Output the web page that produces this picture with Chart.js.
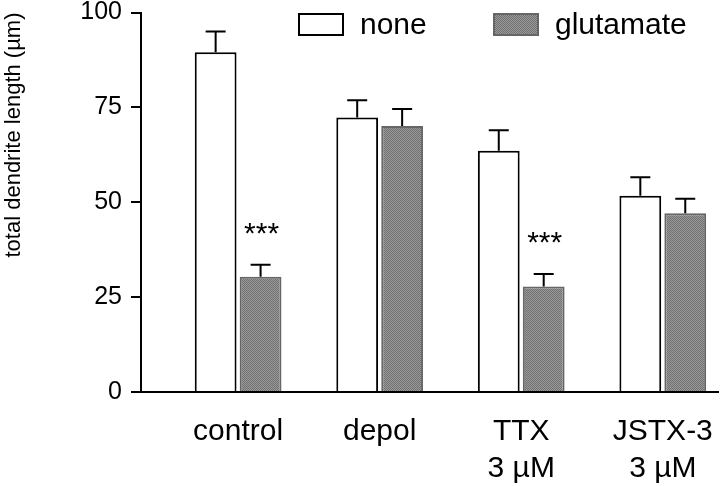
<!DOCTYPE html>
<html>
<head>
<meta charset="utf-8">
<script src="https://cdn.jsdelivr.net/npm/chart.js@4.4.1/dist/chart.umd.min.js"></script>
<style>
  html, body { margin: 0; padding: 0; background: #ffffff; }
  #wrap { width: 720px; height: 486px; }
</style>
</head>
<body>
<div id="wrap"><canvas id="c" width="720" height="486"></canvas></div>
<script>
// ---- data ----
const categories = ['control', 'depol', 'TTX', 'JSTX-3'];
const doses = ['', '', '3 µM', '3 µM'];
const seriesNames = ['none', 'glutamate'];
const noneMean = [89.5, 72.3, 63.6, 51.7];
const noneErr = [5.5, 4.6, 5.4, 4.9];
const gluMean = [30.4, 70.1, 27.8, 47.1];
const gluErr = [3.1, 4.5, 3.3, 3.8];
const gluSig = ['***', '', '***', ''];
const yTicks = [0, 25, 50, 75, 100];
const yTitle = 'total dendrite length (µm)';

Chart.defaults.font.family = "'Liberation Sans', Arial, Helvetica, sans-serif";
Chart.defaults.color = '#000';

// grey stippled fill like the print
function makePattern() {
  const p = document.createElement('canvas');
  p.width = 2; p.height = 2;
  const g = p.getContext('2d');
  g.fillStyle = '#989898'; g.fillRect(0, 0, 2, 2);
  g.fillStyle = '#727272'; g.fillRect(0, 0, 1, 1); g.fillRect(1, 1, 1, 1);
  return g.createPattern(p, 'repeat');
}
const gluFill = makePattern();

const errorBars = {
  id: 'errorBars',
  afterDatasetsDraw(chart) {
    const ctx = chart.ctx;
    const ys = chart.scales.y;
    const errs = [noneErr, gluErr];
    const means = [noneMean, gluMean];
    ctx.save();
    ctx.strokeStyle = '#000';
    ctx.lineWidth = 2;
    chart.data.datasets.forEach((ds, d) => {
      const meta = chart.getDatasetMeta(d);
      meta.data.forEach((bar, i) => {
        const top = ys.getPixelForValue(means[d][i]);
        const hi = ys.getPixelForValue(means[d][i] + errs[d][i]);
        ctx.beginPath();
        ctx.moveTo(bar.x, top);
        ctx.lineTo(bar.x, hi);
        ctx.moveTo(bar.x - 10, hi);
        ctx.lineTo(bar.x + 10, hi);
        ctx.stroke();
        if (d === 1 && gluSig[i]) {
          ctx.fillStyle = '#000';
          ctx.font = "30px 'Liberation Sans', Arial, sans-serif";
          ctx.textAlign = 'center';
          ctx.textBaseline = 'middle';
          ctx.fillText(gluSig[i], bar.x + 1, hi - 30);
        }
      });
    });
    ctx.restore();
  }
};

const boxLegend = {
  id: 'boxLegend',
  afterDraw(chart) {
    const ctx = chart.ctx;
    const xs = [299, 494];
    ctx.save();
    ctx.font = "30px 'Liberation Sans', Arial, sans-serif";
    ctx.textBaseline = 'alphabetic';
    ctx.textAlign = 'left';
    chart.data.datasets.forEach((ds, d) => {
      const x = xs[d];
      ctx.fillStyle = ds.backgroundColor;
      ctx.fillRect(x, 14, 44, 21);
      ctx.strokeStyle = ds.borderColor;
      ctx.lineWidth = 2;
      ctx.strokeRect(x, 14, 44, 21);
      ctx.fillStyle = '#000';
      ctx.fillText(ds.label, x + 61, 34);
    });
    ctx.restore();
  }
};

new Chart(document.getElementById('c'), {
  type: 'bar',
  data: {
    datasets: [
      {
        label: seriesNames[0],
        data: noneMean.map((v, i) => ({ x: i + 1, y: v })),
        backgroundColor: '#ffffff',
        borderColor: '#000000',
        borderWidth: 2,
        borderSkipped: 'start'
      },
      {
        label: seriesNames[1],
        data: gluMean.map((v, i) => ({ x: i + 1, y: v })),
        backgroundColor: gluFill,
        borderColor: '#666666',
        borderWidth: 2,
        borderSkipped: 'start'
      }
    ]
  },
  options: {
    responsive: false,
    devicePixelRatio: 1,
    animation: false,
    categoryPercentage: 0.635,
    barPercentage: 0.93,
    layout: { padding: { top: 12.5, right: 2, bottom: 0, left: 0 } },
    plugins: {
      legend: { display: false },
      tooltip: { enabled: false },
      title: { display: false }
    },
    scales: {
      x: {
        type: 'linear',
        min: 0.314,
        max: 4.39,
        offset: false,
        afterBuildTicks: (axis) => { axis.ticks = categories.map((c, i) => ({ value: i + 1 })); },
        afterFit: (axis) => { axis.height = 94; axis.paddingLeft = 0; axis.paddingRight = 0; },
        grid: { display: false, drawTicks: false },
        border: { display: true, color: '#000', width: 2 },
        ticks: {
          autoSkip: false,
          maxRotation: 0,
          padding: 21,
          color: '#000',
          font: { size: 30, lineHeight: 1.233 },
          callback: (v) => {
            const i = Math.round(v) - 1;
            return doses[i] ? [categories[i], doses[i]] : categories[i];
          }
        }
      },
      y: {
        min: 0,
        max: 100,
        afterBuildTicks: (axis) => { axis.ticks = yTicks.map(v => ({ value: v })); },
        afterFit: (axis) => { axis.width = 141; axis.paddingTop = 0; axis.paddingBottom = 0; },
        grid: {
          display: true,
          drawOnChartArea: false,
          drawTicks: true,
          tickLength: 10,
          color: '#000',
          lineWidth: 2
        },
        border: { display: true, color: '#000', width: 2 },
        ticks: {
          padding: 9,
          color: '#000',
          font: { size: 25, lineHeight: 1 }
        },
        title: {
          display: true,
          text: yTitle,
          align: 'end',
          color: '#000',
          padding: { top: 1, bottom: 0 },
          font: { size: 22 }
        }
      }
    }
  },
  plugins: [errorBars, boxLegend]
});
</script>
</body>
</html>
